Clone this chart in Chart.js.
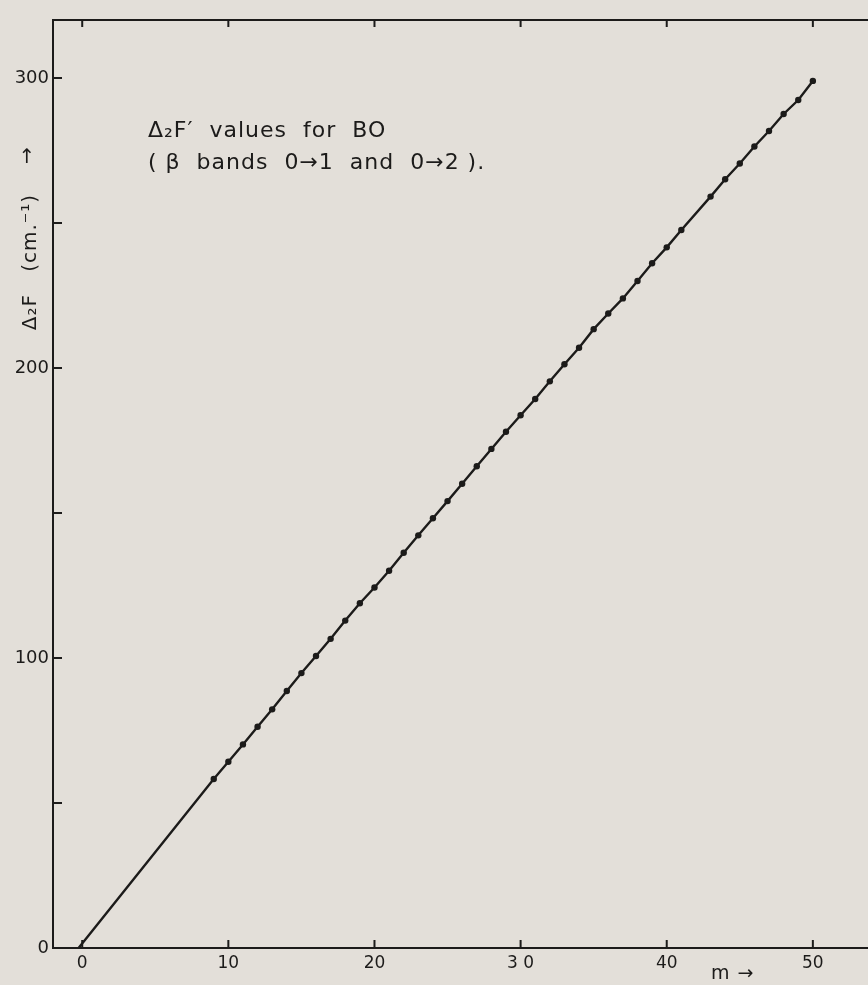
<!DOCTYPE html>
<html>
<head>
<meta charset="utf-8">
<script src="https://cdn.jsdelivr.net/npm/chart.js@4/dist/chart.umd.min.js"></script>
<style>
  html, body { margin: 0; padding: 0; background: #e3dfd9; }
  #wrap { width: 868px; height: 985px; position: relative; }
</style>
</head>
<body>
<div id="wrap"><canvas id="plot"></canvas></div>
<script>
const mValues = [9, 10, 11, 12, 13, 14, 15, 16, 17, 18, 19, 20, 21, 22, 23, 24, 25, 26, 27, 28, 29,
  30, 31, 32, 33, 34, 35, 36, 37, 38, 39, 40, 41, 43, 44, 45, 46, 47, 48, 49, 50];
const dfValues = [58.3, 64.2, 70.2, 76.3, 82.3, 88.6, 94.8, 100.7, 106.6, 112.9, 118.9, 124.3, 130.1,
  136.3, 142.3, 148.2, 154.1, 160.1, 166.1, 172.1, 178.0, 183.7, 189.3, 195.4, 201.3, 207.0, 213.4,
  218.8, 224.0, 230.0, 236.1, 241.6, 247.6, 259.1, 265.1, 270.5, 276.4, 281.7, 287.6, 292.4, 299.0];

// where the drawn line meets the m axis
const lineStart = { x: -0.25, y: 0 };

const xTickValues = [0, 10, 20, 30, 40, 50];
const xTickLabels = ['0', '10', '20', '3 0', '40', '50'];
const yTickValues = [0, 50, 100, 150, 200, 250, 300];
const yTickLabels = ['0', '', '100', '', '200', '', '300'];

const ink = '#1c1b1a';
const points = mValues.map((m, i) => ({ x: m, y: dfValues[i] }));

const extras = {
  id: 'extras',
  afterDraw(chart) {
    const ctx = chart.ctx;
    const { left, top, bottom } = chart.chartArea;
    const xs = chart.scales.x, ys = chart.scales.y;
    ctx.save();
    ctx.strokeStyle = ink;
    ctx.lineWidth = 2;
    // top frame line, and the m axis carried to the page edge
    ctx.beginPath();
    ctx.moveTo(left, top);
    ctx.lineTo(chart.width, top);
    ctx.moveTo(left, bottom);
    ctx.lineTo(chart.width, bottom);
    ctx.stroke();
    // inward tick marks
    ctx.beginPath();
    xTickValues.forEach(v => {
      const px = xs.getPixelForValue(v);
      ctx.moveTo(px, bottom); ctx.lineTo(px, bottom - 8);
      ctx.moveTo(px, top); ctx.lineTo(px, top + 7);
    });
    yTickValues.forEach(v => {
      const py = ys.getPixelForValue(v);
      ctx.moveTo(left, py); ctx.lineTo(left + 9, py);
    });
    ctx.stroke();

    ctx.fillStyle = ink;
    ctx.textBaseline = 'middle';
    ctx.letterSpacing = '1px';
    ctx.font = '22px "DejaVu Sans"';
    ctx.fillText('Δ₂F′  values  for  BO', 148, 131);
    ctx.fillText('( β  bands  0→1  and  0→2 ).', 148, 163);

    // y axis title, rotated
    ctx.save();
    ctx.translate(31, 262);
    ctx.rotate(-Math.PI / 2);
    ctx.textAlign = 'center';
    ctx.font = '20px "DejaVu Sans"';
    ctx.fillText('Δ₂F   (cm.⁻¹)', 0, 0);
    ctx.fillText('→', 107, -3);
    ctx.restore();

    ctx.font = '19px "DejaVu Sans"';
    ctx.fillText('m →', 711, 974);
    ctx.restore();
  }
};

new Chart(document.getElementById('plot'), {
  type: 'scatter',
  data: {
    datasets: [
      {
        label: 'line',
        data: [lineStart, ...points],
        showLine: true,
        borderColor: ink,
        borderWidth: 2.4,
        pointRadius: 0,
        fill: false
      },
      {
        label: "Δ2F'",
        data: points,
        pointRadius: 3.2,
        pointBackgroundColor: ink,
        pointBorderColor: ink,
        pointBorderWidth: 0
      }
    ]
  },
  plugins: [extras],
  options: {
    responsive: true,
    maintainAspectRatio: false,
    animation: false,
    layout: { padding: { top: 20, right: 0, left: 0, bottom: 0 } },
    plugins: { legend: { display: false }, tooltip: { enabled: false } },
    scales: {
      x: {
        type: 'linear',
        min: -2,
        max: 53.5,
        afterFit: s => { s.height = 37; },
        afterBuildTicks: s => { s.ticks = xTickValues.map(v => ({ value: v })); },
        grid: { display: false, drawTicks: false },
        border: { color: ink, width: 2 },
        ticks: {
          padding: 5,
          color: ink,
          font: { family: 'DejaVu Sans', size: 17 },
          maxRotation: 0,
          callback: (v) => xTickLabels[xTickValues.indexOf(v)]
        }
      },
      y: {
        type: 'linear',
        min: 0,
        max: 320,
        afterFit: s => { s.width = 53; },
        afterBuildTicks: s => { s.ticks = yTickValues.map(v => ({ value: v })); },
        grid: { display: false, drawTicks: false },
        border: { color: ink, width: 2 },
        ticks: {
          padding: 4,
          color: ink,
          font: { family: 'DejaVu Sans', size: 18 },
          callback: (v) => yTickLabels[yTickValues.indexOf(v)]
        }
      }
    }
  }
});
</script>
</body>
</html>
